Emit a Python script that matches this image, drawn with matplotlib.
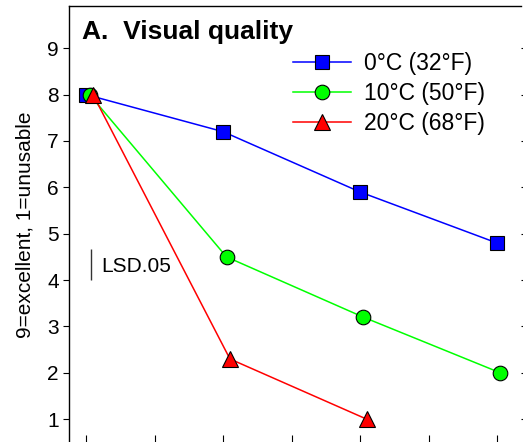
import matplotlib

matplotlib.use("Agg")
import matplotlib.pyplot as plt

plt.rcParams["font.family"] = ["Liberation Sans", "DejaVu Sans"]

# storage time (days) and visual quality scores (9=excellent, 1=unusable)
days = [0, 4, 8, 12]
temps = ["0°C (32°F)", "10°C (50°F)", "20°C (68°F)"]
q_0c = [8.0, 7.2, 5.9, 4.8]
q_10c = [8.0, 4.5, 3.2, 2.0]
q_20c = [8.0, 2.3, 1.0]
lsd05 = 0.67
xticks = [0, 2, 4, 6, 8, 10, 12]
yticks = [1, 2, 3, 4, 5, 6, 7, 8, 9]

fig = plt.figure(figsize=(5.23, 4.42), dpi=100)
ax = fig.add_axes([69 / 523, -0.001, 452 / 523, 436 / 442])

# (values, colour, marker, marker size, small x dodge so points don't hide each other)
series = (
    (q_0c, "#0000ff", "s", 10, 0.0),
    (q_10c, "#00ff00", "o", 10.5, 0.1),
    (q_20c, "#ff0000", "^", 11, 0.2),
)
for (vals, color, marker, ms, dx), name in zip(series, temps):
    xs = [d + dx for d in days[: len(vals)]]
    ax.plot(xs, vals, "-", color=color, lw=1.1, marker=marker, ms=ms,
            mfc=color, mec="black", mew=0.8, label=name)

# LSD bar
ax.vlines(0.15, 4.0, 4.0 + lsd05, color="#333333", lw=1.0)
ax.text(0.43, 4.17, "LSD.05", fontsize=15, va="baseline", ha="left")

ax.text(13 / 452, (442 - 39) / 436, "A.  Visual quality", transform=ax.transAxes,
        fontsize=19, fontweight="bold", va="baseline", ha="left")

ax.set_xlim(-0.5, 12.7)
ax.set_ylim(0.5, 9.9)
ax.set_xticks(xticks)
ax.set_yticks(yticks)
ax.tick_params(axis="x", direction="in", length=5, width=0.8, labelbottom=False)
ax.tick_params(axis="y", direction="out", length=4.3, width=0.8, labelsize=15, pad=3,
               right=True)
ax.spines["right"].set_visible(False)
ax.spines["bottom"].set_visible(False)
for s in ("left", "top"):
    ax.spines[s].set_linewidth(1.0)
ax.set_ylabel("9=excellent, 1=unusable", fontsize=15, labelpad=9)

ax.legend(loc="upper left", bbox_to_anchor=((293 - 69) / 452, (442 - 52) / 436),
          frameon=False, fontsize=16.5, handlelength=2.55, handletextpad=0.55,
          labelspacing=0.3, borderpad=0, borderaxespad=0)

fig.savefig("out.png", dpi=100)
